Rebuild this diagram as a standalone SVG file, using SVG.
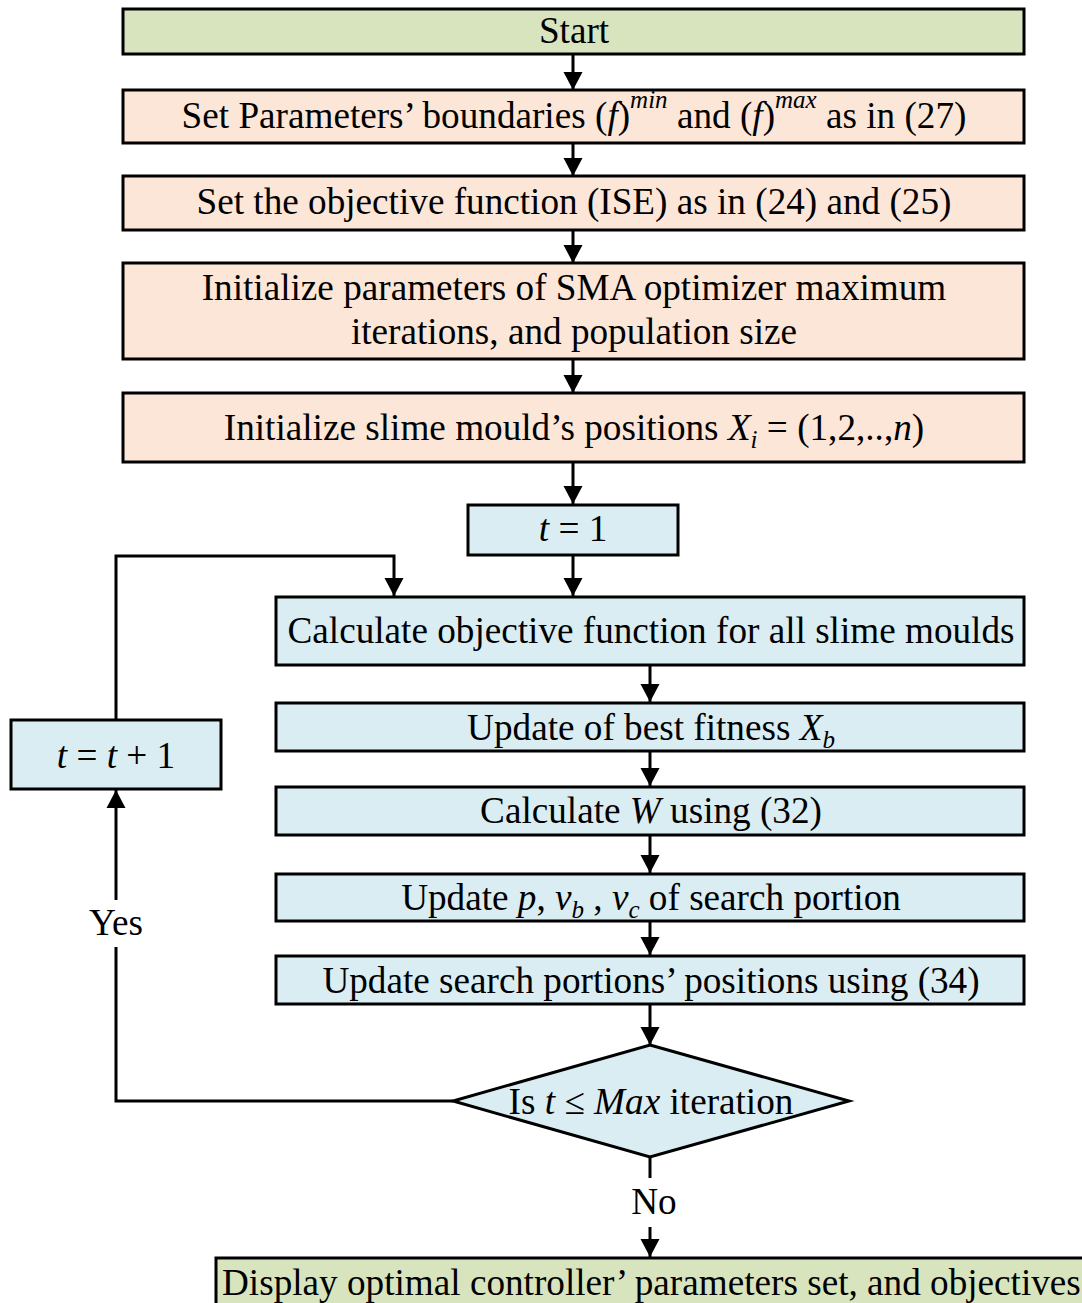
<svg xmlns="http://www.w3.org/2000/svg" width="1082" height="1303" viewBox="0 0 1082 1303">
  <defs>
    <marker id="arrow" markerUnits="userSpaceOnUse" markerWidth="20" markerHeight="20" viewBox="0 0 20 20" refX="18" refY="10" orient="auto">
      <path d="M0,0.5 L18,10 L0,19.5 Z" fill="#000"/>
    </marker>
    <style>
      text { font-family: "Liberation Serif", "Times New Roman", serif; font-size: 37.2px; fill: #000; }
      .c { text-anchor: middle; }
      .i { font-style: italic; }
      .s { font-size: 25px; }
      .box { stroke: #000; stroke-width: 3; }
      .green { fill: #d7e4bd; }
      .peach { fill: #fce6d8; }
      .blue { fill: #daedf3; }
      .wire { fill: none; stroke: #000; stroke-width: 3; }
    </style>
  </defs>
  <rect width="1082" height="1303" fill="#fff"/>

  <!-- connectors -->
  <g id="connectors">
    <line class="wire" x1="573" y1="54" x2="573" y2="90" marker-end="url(#arrow)"/>
    <line class="wire" x1="573" y1="143" x2="573" y2="176" marker-end="url(#arrow)"/>
    <line class="wire" x1="573" y1="230" x2="573" y2="263" marker-end="url(#arrow)"/>
    <line class="wire" x1="573" y1="359" x2="573" y2="393" marker-end="url(#arrow)"/>
    <line class="wire" x1="573" y1="462" x2="573" y2="504" marker-end="url(#arrow)"/>
    <line class="wire" x1="573" y1="555" x2="573" y2="596" marker-end="url(#arrow)"/>
    <line class="wire" x1="650" y1="665" x2="650" y2="702" marker-end="url(#arrow)"/>
    <line class="wire" x1="650" y1="751" x2="650" y2="786" marker-end="url(#arrow)"/>
    <line class="wire" x1="650" y1="835" x2="650" y2="873" marker-end="url(#arrow)"/>
    <line class="wire" x1="650" y1="921" x2="650" y2="955" marker-end="url(#arrow)"/>
    <line class="wire" x1="650" y1="1004" x2="650" y2="1045" marker-end="url(#arrow)"/>
    <!-- loop back: t = t + 1 to the fitness evaluation -->
    <polyline class="wire" points="116,720 116,556 394,556 394,596" marker-end="url(#arrow)"/>
    <!-- Yes branch -->
    <polyline class="wire" points="453,1101 116,1101 116,947"/>
    <line class="wire" x1="116" y1="900" x2="116" y2="790" marker-end="url(#arrow)"/>
    <!-- No branch -->
    <line class="wire" x1="650" y1="1157" x2="650" y2="1178"/>
    <line class="wire" x1="650" y1="1227" x2="650" y2="1257" marker-end="url(#arrow)"/>
    <text x="116" y="935" class="c">Yes</text>
    <text x="654" y="1214" class="c">No</text>
  </g>

  <g id="start">
    <rect class="box green" x="123" y="9" width="901" height="45"/>
    <text x="574" y="43" class="c">Start</text>
  </g>

  <g id="set-bounds">
    <rect class="box peach" x="123" y="90" width="901" height="53"/>
    <text x="574" y="128" class="c">Set Parameters’ boundaries (<tspan class="i">f</tspan>)<tspan class="i s" dy="-20">min</tspan><tspan dy="20"> and (</tspan><tspan class="i">f</tspan>)<tspan class="i s" dy="-20">max</tspan><tspan dy="20"> as in (27)</tspan></text>
  </g>

  <g id="set-objective">
    <rect class="box peach" x="123" y="176" width="901" height="54"/>
    <text x="574" y="214" class="c">Set the objective function (ISE) as in (24) and (25)</text>
  </g>

  <g id="init-params">
    <rect class="box peach" x="123" y="263" width="901" height="96"/>
    <text x="574" y="300" class="c">Initialize parameters of SMA optimizer maximum</text>
    <text x="574" y="344" class="c">iterations, and population size</text>
  </g>

  <g id="init-positions">
    <rect class="box peach" x="123" y="393" width="901" height="69"/>
    <text x="574" y="440" class="c">Initialize slime mould’s positions <tspan class="i">X</tspan><tspan class="i s" dy="8">i</tspan><tspan dy="-8"> = (1,2,..,</tspan><tspan class="i">n</tspan>)</text>
  </g>

  <g id="t-init">
    <rect class="box blue" x="468" y="505" width="210" height="50"/>
    <text x="573" y="541" class="c"><tspan class="i">t</tspan> = 1</text>
  </g>

  <g id="calc-objective">
    <rect class="box blue" x="276" y="597" width="748" height="68"/>
    <text x="651" y="643" class="c">Calculate objective function for all slime moulds</text>
  </g>

  <g id="t-increment">
    <rect class="box blue" x="11" y="720" width="210" height="69"/>
    <text x="116" y="768" class="c"><tspan class="i">t</tspan> = <tspan class="i">t</tspan> + 1</text>
  </g>

  <g id="update-best">
    <rect class="box blue" x="276" y="703" width="748" height="48"/>
    <text x="651" y="740" class="c">Update of best fitness <tspan class="i">X</tspan><tspan class="i s" dy="8">b</tspan></text>
  </g>

  <g id="calc-w">
    <rect class="box blue" x="276" y="787" width="748" height="48"/>
    <text x="651" y="823" class="c">Calculate <tspan class="i">W</tspan> using (32)</text>
  </g>

  <g id="update-p">
    <rect class="box blue" x="276" y="874" width="748" height="47"/>
    <text x="651" y="910" class="c">Update <tspan class="i">p</tspan>, <tspan class="i">v</tspan><tspan class="i s" dy="8">b</tspan><tspan dy="-8"> , </tspan><tspan class="i">v</tspan><tspan class="i s" dy="8">c</tspan><tspan dy="-8"> of search portion</tspan></text>
  </g>

  <g id="update-positions">
    <rect class="box blue" x="276" y="956" width="748" height="48"/>
    <text x="651" y="993" class="c">Update search portions’ positions using (34)</text>
  </g>

  <g id="check-iteration">
    <polygon class="box blue" points="650,1045 849,1101 650,1157 453,1101"/>
    <text x="651" y="1114" class="c">Is <tspan class="i">t</tspan> ≤ <tspan class="i">Max</tspan> iteration</text>
  </g>

  <g id="display-result">
    <rect class="box green" x="216" y="1258" width="880" height="60"/>
    <text x="222" y="1295">Display optimal controller’ parameters set, and objectives</text>
  </g>
</svg>
